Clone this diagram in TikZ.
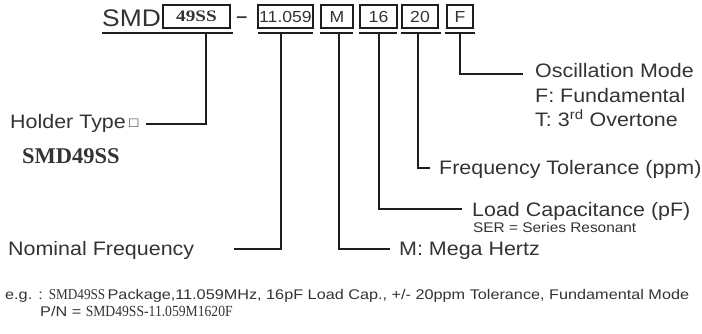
\documentclass[tikz,border=0pt]{standalone}
\usepackage{fontspec}
\newfontfamily\arf{Liberation Sans}[FakeStretch=1.1]
\newfontfamily\arw{Liberation Sans}[FakeStretch=1.16]
\newfontfamily\tmf{Liberation Serif}
\newfontfamily\tmc{Liberation Serif}[FakeStretch=0.88]
\newfontfamily\tmw{Liberation Serif}[FakeStretch=1.2]
\definecolor{txt}{HTML}{333333}
\definecolor{ln}{HTML}{1E1E1E}
\begin{document}
\begin{tikzpicture}[x=1pt,y=-1pt,
  lbl/.style={inner sep=0pt, anchor=base west, text=txt, font=\arf\fontsize{19.5}{22}\selectfont},
  small/.style={inner sep=0pt, anchor=base west, text=txt, font=\arw\fontsize{14}{16}\selectfont},
  cbox/.style={draw=ln, line width=1.3pt, minimum height=23pt, inner sep=0pt, text=txt, font=\arf\fontsize{16}{18}\selectfont},
  uline/.style={draw=ln, line width=2pt},
  conn/.style={draw=ln, line width=1.6pt},
]
\useasboundingbox (0,0) rectangle (702,334);
% top row
\node[inner sep=0pt, anchor=base west, text=txt, font=\arf\fontsize{24}{26}\selectfont] (smd) at (102,27) {SMD};
\node[cbox, minimum width=67pt, font=\tmw\bfseries\fontsize{16}{18}\selectfont] (b49) at (196.5,16.5) {49SS};
\node[inner sep=0pt, anchor=base, text=txt, font=\arf\bfseries\fontsize{18}{20}\selectfont] (dash) at (242,23) {–};
\node[cbox, minimum width=55pt] (b11) at (285.5,16.5) {11.059};
\node[cbox, minimum width=32pt] (bM) at (337,16.5) {M};
\node[cbox, minimum width=37pt] (b16) at (378.5,16.5) {16};
\node[cbox, minimum width=36pt] (b20) at (420,16.5) {20};
\node[cbox, minimum width=26pt] (bF) at (460,16.5) {F};
% underlines
\draw[uline] (102,33.5) -- (233,33.5);
\draw[uline] (258,33.5) -- (313,33.5);
\draw[uline] (320,33.5) -- (353,33.5);
\draw[uline] (359,33.5) -- (397,33.5);
\draw[uline] (401,33.5) -- (441,33.5);
\draw[uline] (445,33.5) -- (475,33.5);
\coordinate (u49) at (206,33.5);
\coordinate (u11) at (281,33.5);
\coordinate (uM) at (339,33.5);
\coordinate (u16) at (379,33.5);
\coordinate (u20) at (418,33.5);
\coordinate (uF) at (460,33.5);
% labels
\node[lbl] (holder) at (10,129) {Holder Type\,\raisebox{1pt}{\fontsize{14}{15}\selectfont □}};
\node[inner sep=0pt, anchor=base west, text=txt, font=\tmf\bfseries\fontsize{22.5}{24}\selectfont] (smd49) at (22,164) {SMD49SS};
\node[lbl] (nominal) at (8,255) {Nominal Frequency};
\node[lbl] (mega) at (399,255) {M: Mega Hertz};
\node[lbl] (load) at (472,216) {Load Capacitance (pF)};
\node[inner sep=0pt, anchor=base west, text=txt, font=\arf\fontsize{14}{15}\selectfont] (ser) at (473,233) {SER = Series Resonant};
\node[lbl] (ftol) at (439,175) {Frequency Tolerance (ppm)};
\node[lbl] (osc) at (535,78) {Oscillation Mode};
\node[lbl] (fund) at (535,103) {F: Fundamental};
\node[lbl] (over) at (535,127) {T: 3\textsuperscript{rd} Overtone};
% connector ends
\coordinate (eH) at (146,124);
\coordinate (eN) at (234,249);
\coordinate (eM) at (390,249);
\coordinate (e16) at (462,209);
\coordinate (e20) at (430,168);
\coordinate (eF) at (523,74);
\draw[conn] (u49) |- (eH);
\draw[conn] (u11) |- (eN);
\draw[conn] (uM) |- (eM);
\draw[conn] (u16) |- (e16);
\draw[conn] (u20) |- (e20);
\draw[conn] (uF) |- (eF);
% example
\node[small] (eg) at (5,299) {e.g. : {\tmc\fontsize{15}{16}\selectfont SMD49SS}\,Package,11.059MHz, 16pF Load Cap., +/- 20ppm Tolerance, Fundamental Mode};
\node[small] (pn) at (40,316) {P/N = {\tmc\fontsize{15.5}{16}\selectfont SMD49SS-11.059M1620F}};
\end{tikzpicture}
\end{document}
